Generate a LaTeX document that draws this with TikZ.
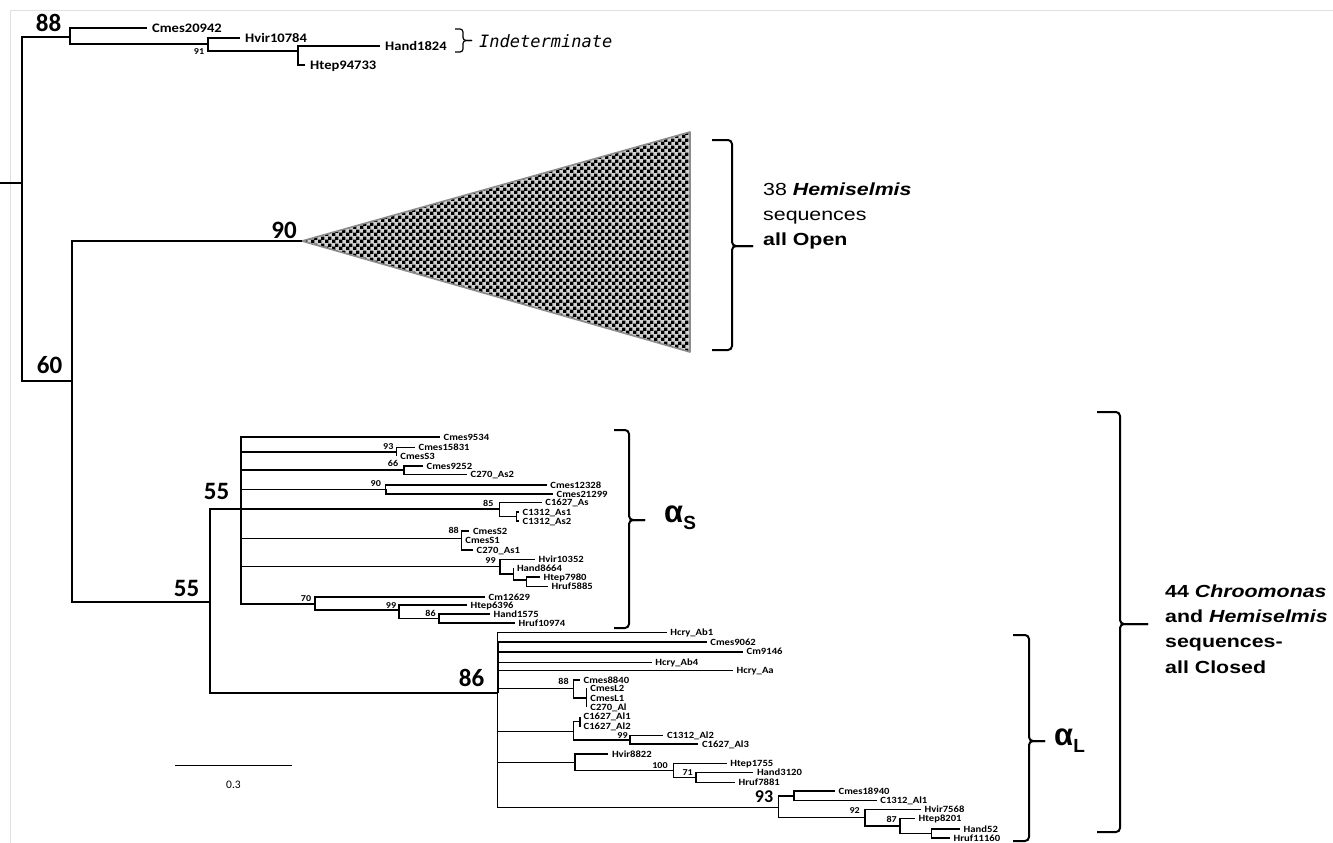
\documentclass[tikz,border=0pt]{standalone}
\usepackage{fontspec}
\setmainfont{Carlito}
\newfontfamily\labf{Carlito}[FakeStretch=1.12]
\newfontfamily\arf{Liberation Sans}[FakeStretch=1.22]
\newfontfamily\grkf{Liberation Sans}
\newfontfamily\indf{DejaVu Sans Mono}
\usetikzlibrary{patterns}
\pgfdeclarepatternformonly{bigcheck}{\pgfpointorigin}{\pgfqpoint{6.6pt}{6.6pt}}{\pgfqpoint{6.6pt}{6.6pt}}{%
  \pgfpathrectangle{\pgfpointorigin}{\pgfqpoint{3.5pt}{3.5pt}}%
  \pgfpathrectangle{\pgfqpoint{3.3pt}{3.3pt}}{\pgfqpoint{3.5pt}{3.5pt}}%
  \pgfusepath{fill}}
\begin{document}
\begin{tikzpicture}[x=1pt,y=-1pt,
  br/.style={line width=1.2pt},
  brt/.style={line width=1.9pt},
  tl/.style={font=\labf\bfseries\fontsize{13}{13}\selectfont, anchor=west, inner xsep=5pt, inner ysep=0pt, text height=8.4pt, text depth=0pt},
  sl/.style={font=\labf\bfseries\fontsize{9.5}{9.5}\selectfont, anchor=west, inner xsep=3.5pt, inner ysep=0pt, text height=6.1pt, text depth=0pt},
  bs/.style={font=\labf\bfseries\fontsize{9}{9}\selectfont, inner sep=0pt, text height=5.8pt, text depth=0pt},
  bb/.style={font=\bfseries\fontsize{25}{25}\selectfont, inner sep=0pt, text height=16pt, text depth=0pt},
  bm/.style={font=\bfseries\fontsize{18}{18}\selectfont, inner sep=0pt, text height=11.6pt, text depth=0pt},
  brk/.style={line width=2pt, rounded corners=4pt},
  side/.style={font=\arf\fontsize{17.5}{25}\selectfont, anchor=west, align=left, inner sep=0pt}
]
\useasboundingbox (0,0) rectangle (1333,843);
\fill[white] (0,0) rectangle (1333,843);
\draw[black!12, line width=1pt] (10,843) -- (10,11) -- (1333,11);

% ---------- internal nodes ----------
\coordinate (root) at (0,183);
\coordinate (nR) at (22,183);
\coordinate (n88) at (70,37);
\coordinate (n91) at (208,44);
\coordinate (nHH) at (298,51);
\coordinate (n60) at (72,381);
\coordinate (tri) at (302,241);
\coordinate (triA) at (690,132);
\coordinate (triB) at (690,352);
\coordinate (n55a) at (210,602);
\coordinate (nS) at (241,509);
\coordinate (n86) at (497.7,693);
\coordinate (n93a) at (396.7,452);
\coordinate (n66) at (404,470);
\coordinate (n90b) at (385.7,489.3);
\coordinate (n85) at (499.3,509);
\coordinate (n85b) at (516.7,516.5);
\coordinate (n88b) at (461.7,538.3);
\coordinate (n99a) at (500,566.7);
\coordinate (n99a2) at (513.3,574);
\coordinate (nHT) at (526.7,580);
\coordinate (n70) at (315,604);
\coordinate (n99b) at (399,610);
\coordinate (n86b) at (439,618.5);
\coordinate (n88c) at (573.3,688.3);
\coordinate (nL) at (586.7,698);
\coordinate (nC16) at (573.3,731.7);
\coordinate (nAl) at (580,721.7);
\coordinate (n99c) at (630,740);
\coordinate (nHv) at (575,762.3);
\coordinate (n100) at (673.3,770.7);
\coordinate (n71) at (696,777.5);
\coordinate (n93b) at (778.3,807.3);
\coordinate (nCm) at (794,796);
\coordinate (n92) at (865,817.7);
\coordinate (n87) at (900,826);
\coordinate (nHH2) at (931.7,833.5);

% ---------- leaves ----------
\node[tl] (Cmes20942) at (147,28) {Cmes20942};
\node[tl] (Hvir10784) at (240,38) {Hvir10784};
\node[tl] (Hand1824) at (380,46) {Hand1824};
\node[tl] (Htep94733) at (305,65) {Htep94733};

\node[sl] (Cmes9534) at (440,437) {Cmes9534};
\node[sl] (Cmes15831) at (415,447.3) {Cmes15831};
\node[sl] (CmesS3) at (396.7,456) {CmesS3};
\node[sl] (Cmes9252) at (423,466) {Cmes9252};
\node[sl] (C270As2) at (467,474.5) {C270\_As2};
\node[sl] (Cmes12328) at (546.7,485) {Cmes12328};
\node[sl] (Cmes21299) at (553,494) {Cmes21299};
\node[sl] (C1627As) at (541.7,502.7) {C1627\_As};
\node[sl] (C1312As1) at (519,512) {C1312\_As1};
\node[sl] (C1312As2) at (519,521) {C1312\_As2};
\node[sl] (CmesS2) at (469.3,531) {CmesS2};
\node[sl] (CmesS1) at (461.7,540.7) {CmesS1};
\node[sl] (C270As1) at (473,550) {C270\_As1};
\node[sl] (Hvir10352) at (535,559.3) {Hvir10352};
\node[sl] (Hand8664) at (513.3,568.3) {Hand8664};
\node[sl] (Htep7980) at (540,577) {Htep7980};
\node[sl] (Hruf5885) at (548,586.7) {Hruf5885};
\node[sl] (Cm12629) at (485,597) {Cm12629};
\node[sl] (Htep6396) at (467,605) {Htep6396};
\node[sl] (Hand1575) at (490,614) {Hand1575};
\node[sl] (Hruf10974) at (515,623) {Hruf10974};

\node[sl] (HcryAb1) at (666.7,632.7) {Hcry\_Ab1};
\node[sl] (Cmes9062) at (706.7,642.3) {Cmes9062};
\node[sl] (Cm9146) at (743,651.7) {Cm9146};
\node[sl] (HcryAb4) at (651.7,662.3) {Hcry\_Ab4};
\node[sl] (HcryAa) at (733,670.7) {Hcry\_Aa};
\node[sl] (Cmes8840) at (580,680) {Cmes8840};
\node[sl] (CmesL2) at (586.7,688.3) {CmesL2};
\node[sl] (CmesL1) at (586.7,698.3) {CmesL1};
\node[sl] (C270Al) at (586.7,707.3) {C270\_Al};
\node[sl] (C1627Al1) at (580,716.7) {C1627\_Al1};
\node[sl] (C1627Al2) at (580,726.7) {C1627\_Al2};
\node[sl] (C1312Al2) at (663.3,735.7) {C1312\_Al2};
\node[sl] (C1627Al3) at (698.3,744.3) {C1627\_Al3};
\node[sl] (Hvir8822) at (608.3,754) {Hvir8822};
\node[sl] (Htep1755) at (726.7,763.3) {Htep1755};
\node[sl] (Hand3120) at (753.3,772.7) {Hand3120};
\node[sl] (Hruf7881) at (735,782.3) {Hruf7881};
\node[sl] (Cmes18940) at (835,791) {Cmes18940};
\node[sl] (C1312Al1) at (876.7,800.7) {C1312\_Al1};
\node[sl] (Hvir7568) at (921,809.3) {Hvir7568};
\node[sl] (Htep8201) at (915,818.3) {Htep8201};
\node[sl] (Hand52) at (960,829) {Hand52};
\node[sl] (Hruf11160) at (950,838) {Hruf11160};

% ---------- collapsed clade ----------
\path[fill=black!18] (tri) -- (triA) -- (triB) -- cycle;
\path[pattern=bigcheck, pattern color=black] (tri) -- (triA) -- (triB) -- cycle;
\draw[black!45, line width=1.6pt, line join=round] (tri) -- (triA) -- (triB) -- cycle;

% ---------- branches ----------
\draw[br] (root) -- (nR);
\foreach \p/\c in {nR/n88, nR/n60, n88/n91, n91/nHH, n60/tri, n60/n55a,
  n55a/nS, n55a/n86, nS/n93a, nS/n66, nS/n90b, nS/n85, nS/n88b, nS/n99a,
  nS/n70, n85/n85b, n99a/n99a2, n99a2/nHT, n70/n99b, n99b/n86b,
  n86/n88c, n86/nC16, n86/nHv, n86/n93b, n88c/nL, nC16/nAl, nC16/n99c,
  nHv/n100, n100/n71, n93b/nCm, n93b/n92, n92/n87, n87/nHH2}
  \draw[br] (\p) |- (\c);
\foreach \p/\c in {n88/Cmes20942, n91/Hvir10784, nHH/Hand1824, nHH/Htep94733,
  nS/Cmes9534, n93a/Cmes15831, n93a/CmesS3, n66/Cmes9252, n66/C270As2,
  n90b/Cmes12328, n85/C1627As, n85b/C1312As1, n85b/C1312As2,
  n88b/CmesS2, n88b/CmesS1, n88b/C270As1, n99a/Hvir10352, n99a2/Hand8664,
  nHT/Htep7980, nHT/Hruf5885, n99b/Htep6396, n86b/Hand1575, n86b/Hruf10974,
  n86/HcryAb1, n86/HcryAb4, n86/HcryAa, n88c/Cmes8840,
  nL/CmesL2, nL/CmesL1, nL/C270Al, nAl/C1627Al1, nAl/C1627Al2,
  n99c/C1312Al2, nHv/Hvir8822, n100/Htep1755, n71/Hand3120,
  n71/Hruf7881, nCm/Cmes18940, nCm/C1312Al1, n92/Hvir7568, n87/Htep8201,
  nHH2/Hand52, nHH2/Hruf11160}
  \draw[br] (\p) |- (\c.west);
\foreach \p/\c in {n90b/Cmes21299, n70/Cm12629, n86/Cmes9062, n86/Cm9146, n99c/C1627Al3}
  \draw[brt] (\p) |- (\c.west);
\draw[line width=2.6pt] (n60) -- ++(0,66);

% ---------- support values ----------
\node[bb] (b88) at (48.5,23.5) {88};
\node[bb] (b90) at (284,230) {90};
\node[bb] (b60) at (49.5,365) {60};
\node[bb] (b55a) at (216.5,491) {55};
\node[bb] (b55b) at (186.5,588) {55};
\node[bb] (b86) at (471.5,678) {86};
\node[bm] (b93) at (764,797) {93};
\node[bs] (s91) at (199,51.7) {91};
\node[bs] (s93) at (388.3,446.5) {93};
\node[bs] (s66) at (393,464) {66};
\node[bs] (s90) at (375.8,484) {90};
\node[bs] (s85) at (488.3,504) {85};
\node[bs] (s88) at (453.7,531) {88};
\node[bs] (s99) at (490.5,560.5) {99};
\node[bs] (s70) at (306,599) {70};
\node[bs] (s99b) at (391,606) {99};
\node[bs] (s86) at (430.5,614) {86};
\node[bs] (s88c) at (563.5,681.5) {88};
\node[bs] (s99c) at (622.5,735.5) {99};
\node[bs] (s100) at (660,765.3) {100};
\node[bs] (s71) at (687.7,772.8) {71};
\node[bs] (s92) at (854.7,810.7) {92};
\node[bs] (s87) at (891.7,820) {87};

% ---------- scale bar ----------
\coordinate (sb1) at (175,765);
\coordinate (sb2) at (292,765);
\draw[line width=1pt] (sb1) -- (sb2);
\node[font=\fontsize{11.5}{11.5}\selectfont, inner sep=0pt] (sbl) at (233.5,785) {0.3};

% ---------- brackets ----------
\draw[line width=1.2pt, rounded corners=3pt] (455,29) -- (463,29) -- (463,40.5) -- (472,40.5);
\draw[line width=1.2pt, rounded corners=3pt] (472,40.5) -- (463,40.5) -- (463,52) -- (455,52);
\node[font=\indf\itshape\fontsize{17}{17}\selectfont, anchor=west, inner sep=0pt] (ind) at (479,41) {Indeterminate};

\draw[brk] (712,140) -- (732,140) -- (732,246) -- (753,246);
\draw[brk] (753,246) -- (732,246) -- (732,350) -- (712,350);
\node[side] (openlab) at (763,216) {38 \textbf{\textit{Hemiselmis}}\\sequences\\\textbf{all Open}};

\draw[brk] (614,430) -- (629,430) -- (629,520) -- (645,520);
\draw[brk] (645,520) -- (629,520) -- (629,628) -- (614,628);
\node[anchor=west, inner sep=0pt] (aS) at (664,518) {\grkf\bfseries\fontsize{31}{31}\selectfont α\raisebox{-7pt}{\fontsize{19}{19}\selectfont S}};

\draw[brk] (1013,635) -- (1029,635) -- (1029,741) -- (1045,741);
\draw[brk] (1045,741) -- (1029,741) -- (1029,841) -- (1013,841);
\node[anchor=west, inner sep=0pt] (aL) at (1054,741) {\grkf\bfseries\fontsize{31}{31}\selectfont α\raisebox{-7pt}{\fontsize{19}{19}\selectfont L}};

\draw[brk] (1097,412) -- (1120,412) -- (1120,624) -- (1148,624);
\draw[brk] (1148,624) -- (1120,624) -- (1120,832) -- (1097,832);
\node[side, font=\arf\bfseries\fontsize{17.5}{25.3}\selectfont] (closedlab) at (1165,629) {44 \textit{Chroomonas}\\and \textit{Hemiselmis}\\sequences-\\all Closed};
\end{tikzpicture}
\end{document}
